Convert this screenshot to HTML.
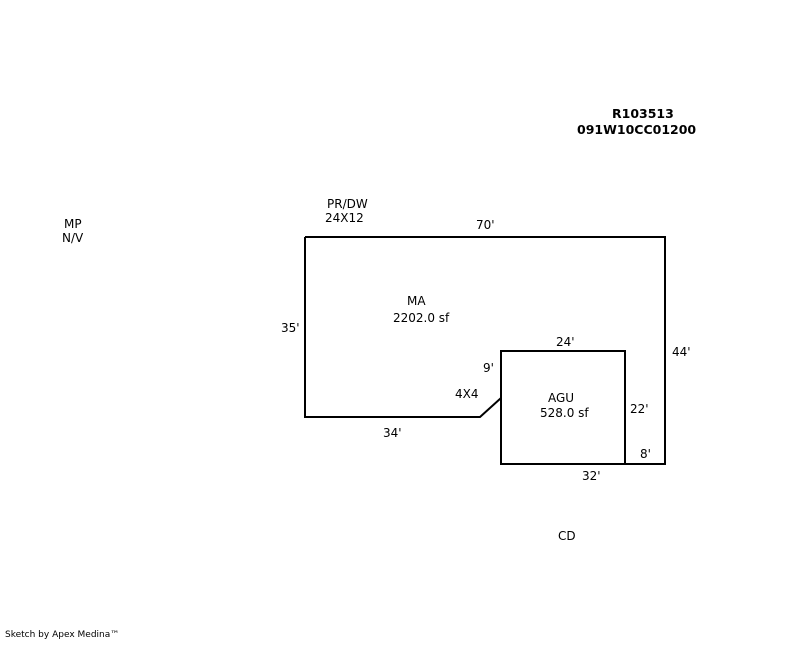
<!DOCTYPE html>
<html><head><style>
body{margin:0;background:#fff;width:800px;height:640px;overflow:hidden}
svg text{font-family:"DejaVu Sans",sans-serif;font-size:12px;fill:#000}
</style></head><body>
<svg width="800" height="640" viewBox="0 0 800 640" xmlns="http://www.w3.org/2000/svg">
<g fill="none" stroke="#000" stroke-width="2">
<polyline points="305,237 665,237 665,464 501,464 501,398 480,417 305,417 305,237"/>
<polyline points="501,398 501,351 625,351 625,464"/>
</g>
<text x="612" y="118" font-weight="bold" style="font-size:12.5px">R103513</text>
<text x="577" y="134" font-weight="bold" style="font-size:12.5px">091W10CC01200</text>
<text x="327" y="208">PR/DW</text>
<text x="325" y="222">24X12</text>
<text x="64" y="228">MP</text>
<text x="62" y="242">N/V</text>
<text x="476" y="229">70'</text>
<text x="407" y="305">MA</text>
<text x="393" y="322">2202.0 sf</text>
<text x="281" y="332">35'</text>
<text x="672" y="356">44'</text>
<text x="556" y="346">24'</text>
<text x="483" y="372">9'</text>
<text x="455" y="398">4X4</text>
<text x="548" y="402">AGU</text>
<text x="540" y="417">528.0 sf</text>
<text x="630" y="413">22'</text>
<text x="383" y="437">34'</text>
<text x="640" y="458">8'</text>
<text x="582" y="480">32'</text>
<text x="558" y="540">CD</text>
<text x="5" y="637" style="font-size:9px">Sketch by Apex Medina™</text>
</svg>
</body></html>
